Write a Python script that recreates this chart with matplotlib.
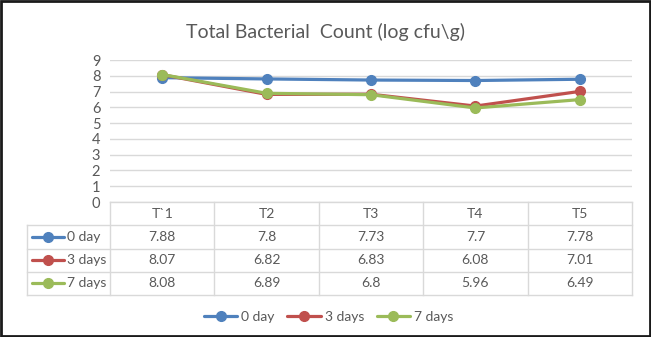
import matplotlib.pyplot as plt
from matplotlib.patches import Rectangle

plt.rcParams['font.family'] = ['Lato', 'DejaVu Sans']

treatments = ['T`1', 'T2', 'T3', 'T4', 'T5']
series_names = ['0 day', '3 days', '7 days']
day0 = [7.88, 7.8, 7.73, 7.7, 7.78]
day3 = [8.07, 6.82, 6.83, 6.08, 7.01]
day7 = [8.08, 6.89, 6.8, 5.96, 6.49]
day0_txt = ['7.88', '7.8', '7.73', '7.7', '7.78']
day3_txt = ['8.07', '6.82', '6.83', '6.08', '7.01']
day7_txt = ['8.08', '6.89', '6.8', '5.96', '6.49']

colors = ['#4F81BD', '#C0504D', '#9BBB59']
text_col = '#595959'
grid_col = '#D9D9D9'

W, H = 651, 337
fig = plt.figure(figsize=(W / 100, H / 100), dpi=100)

# plot area
ax = fig.add_axes([110 / W, 1 - 202 / H, 522 / W, 142 / H])
x = range(len(treatments))
for vals, c, name in zip([day0, day3, day7], colors, series_names):
    ax.plot(x, vals, color=c, lw=2.3, marker='o', ms=7, label=name,
            solid_capstyle='round', zorder=3)
ax.set_xlim(-0.5, 4.5)
ax.set_ylim(0, 9)
ax.set_yticks(range(10))
ax.set_xticks([])
ax.yaxis.grid(True, color=grid_col, lw=1)
ax.set_axisbelow(True)
for s in ax.spines.values():
    s.set_visible(False)
ax.tick_params(axis='y', length=0, pad=7, labelsize=10.5, labelcolor=text_col)

fig.text(0.5, 1 - 32 / H, 'Total Bacterial  Count (log cfu\\g)', ha='center', va='center',
         fontsize=14, color=text_col)

# data table
tab = fig.add_axes([27 / W, 1 - 295 / H, 605 / W, 93 / H])


def px(v):
    return -0.5 + (v - 110) / 104.4


tab.set_xlim(px(27), 4.5)
tab.set_ylim(4, 0)
tab.axis('off')

# borders
tab.plot([-0.5, 4.5], [0, 0], color=grid_col, lw=1, clip_on=False)
for r in [1, 2, 3, 4]:
    tab.plot([px(27), 4.5], [r, r], color=grid_col, lw=1, clip_on=False)
tab.plot([px(27), px(27)], [1, 4], color=grid_col, lw=1, clip_on=False)
for k in range(6):
    tab.plot([k - 0.5, k - 0.5], [0, 4], color=grid_col, lw=1, clip_on=False)

for i, t in enumerate(treatments):
    tab.text(i, 0.5, t, ha='center', va='center', fontsize=10, color=text_col)

rows = [day0_txt, day3_txt, day7_txt]
for r, (txts, c, name) in enumerate(zip(rows, colors, series_names)):
    y = r + 1.5
    tab.plot([px(32), px(64)], [y, y], color=c, lw=2.3, solid_capstyle='round', clip_on=False)
    tab.plot([px(48)], [y], 'o', color=c, ms=7, clip_on=False)
    tab.text(px(67), y, name, ha='left', va='center', fontsize=10, color=text_col)
    for i, t in enumerate(txts):
        tab.text(i, y, t, ha='center', va='center', fontsize=10, color=text_col)

leg = fig.legend(*ax.get_legend_handles_labels(), loc='center', ncol=3,
                 bbox_to_anchor=(0.505, 1 - 317 / H), frameon=False, fontsize=10,
                 handlelength=2.4, columnspacing=0.9, handletextpad=0.3)
for t in leg.get_texts():
    t.set_color(text_col)

fig.add_artist(Rectangle((0.002, 0.003), 0.996, 0.994, transform=fig.transFigure,
                         fill=False, edgecolor='#1a1a1a', lw=2))

fig.savefig('out.png', dpi=100)
